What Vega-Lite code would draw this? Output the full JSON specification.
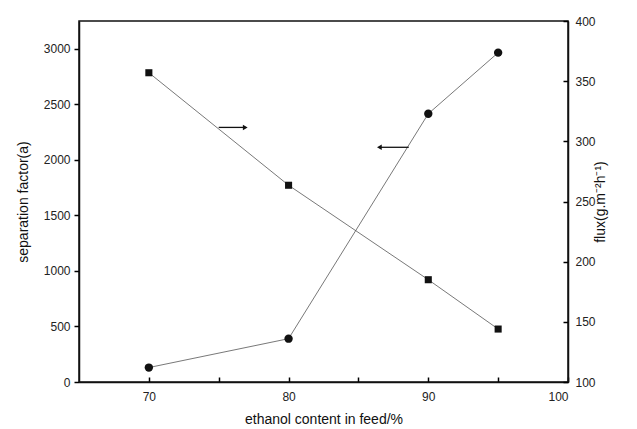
{
  "$schema": "https://vega.github.io/schema/vega-lite/v6.json",
  "width": 489,
  "height": 361,
  "autosize": {"type": "none"},
  "padding": {"left": 79, "top": 21, "right": 69, "bottom": 47},
  "background": "white",
  "config": {
    "view": {"stroke": "#111", "strokeWidth": 1.5},
    "font": "Liberation Sans",
    "axis": {
      "domainColor": "#111",
      "domainWidth": 1.5,
      "labelFont": "Liberation Sans",
      "labelFontSize": 12,
      "labelColor": "#222",
      "labelOverlap": false,
      "titleFont": "Liberation Sans",
      "titleFontSize": 14,
      "titleFontWeight": "normal",
      "titleColor": "#111",
      "tickColor": "#000",
      "tickWidth": 1.5,
      "grid": false
    }
  },
  "datasets": {
    "main": [
      {"content": 70, "separation": 130, "flux": 357},
      {"content": 80, "separation": 390, "flux": 263.5},
      {"content": 90, "separation": 2415, "flux": 185},
      {"content": 95, "separation": 2965, "flux": 144}
    ],
    "arrows": [
      {"x1": 75.0, "x2": 76.9, "y": 2292, "shape": "triangle-right"},
      {"x1": 88.6, "x2": 86.5, "y": 2113, "shape": "triangle-left"}
    ]
  },
  "layer": [
    {
      "layer": [
        {
          "data": {"name": "main"},
          "mark": {"type": "line", "stroke": "#555", "strokeWidth": 0.8},
          "encoding": {
            "x": {
              "field": "content", "type": "quantitative",
              "scale": {"domain": [65, 100], "nice": false, "zero": false},
              "axis": {
                "title": "ethanol content in feed/%",
                "values": [70, 75, 80, 85, 90, 95, 100],
                "format": "d",
                "labelExpr": "datum.value % 10 === 0 ? datum.label : ''",
                "tickSize": -5,
                "labelPadding": 14,
                "titlePadding": 10
              }
            },
            "y": {
              "field": "separation", "type": "quantitative",
              "scale": {"domain": [0, 3250], "nice": false},
              "axis": {
                "title": "separation factor(a)",
                "orient": "left",
                "values": [0, 500, 1000, 1500, 2000, 2500, 3000],
                "format": "d",
                "tickSize": 5,
                "labelPadding": 4,
                "titlePadding": 13
              }
            }
          }
        },
        {
          "data": {"name": "main"},
          "mark": {"type": "point", "shape": "circle", "filled": true, "color": "#111", "size": 70, "opacity": 1},
          "encoding": {
            "x": {"field": "content", "type": "quantitative"},
            "y": {"field": "separation", "type": "quantitative"}
          }
        },
        {
          "data": {"name": "arrows"},
          "mark": {"type": "rule", "stroke": "#111", "strokeWidth": 1.3},
          "encoding": {
            "x": {"field": "x1", "type": "quantitative"},
            "x2": {"field": "x2"},
            "y": {"field": "y", "type": "quantitative"}
          }
        },
        {
          "data": {"name": "arrows"},
          "mark": {"type": "point", "filled": true, "color": "#111", "size": 30, "opacity": 1},
          "encoding": {
            "x": {"field": "x2", "type": "quantitative"},
            "y": {"field": "y", "type": "quantitative"},
            "shape": {"field": "shape", "type": "nominal", "scale": null}
          }
        }
      ]
    },
    {
      "layer": [
        {
          "data": {"name": "main"},
          "mark": {"type": "line", "stroke": "#555", "strokeWidth": 0.8},
          "encoding": {
            "x": {"field": "content", "type": "quantitative"},
            "y": {
              "field": "flux", "type": "quantitative",
              "scale": {"domain": [100, 400], "nice": false, "zero": false},
              "axis": {
                "title": "flux(g.m⁻²h⁻¹)",
                "orient": "right",
                "values": [100,125,150,175,200,225,250,275,300,325,350,375,400],
                "format": "d",
                "labelExpr": "datum.value % 50 === 0 ? datum.label : ''",
                "tickSize": -5,
                "labelPadding": 12,
                "titleAngle": 270,
                "titlePadding": 12
              }
            }
          }
        },
        {
          "data": {"name": "main"},
          "mark": {"type": "square", "filled": true, "color": "#111", "size": 50, "opacity": 1},
          "encoding": {
            "x": {"field": "content", "type": "quantitative"},
            "y": {"field": "flux", "type": "quantitative"}
          }
        }
      ]
    }
  ],
  "resolve": {"scale": {"y": "independent"}}
}
